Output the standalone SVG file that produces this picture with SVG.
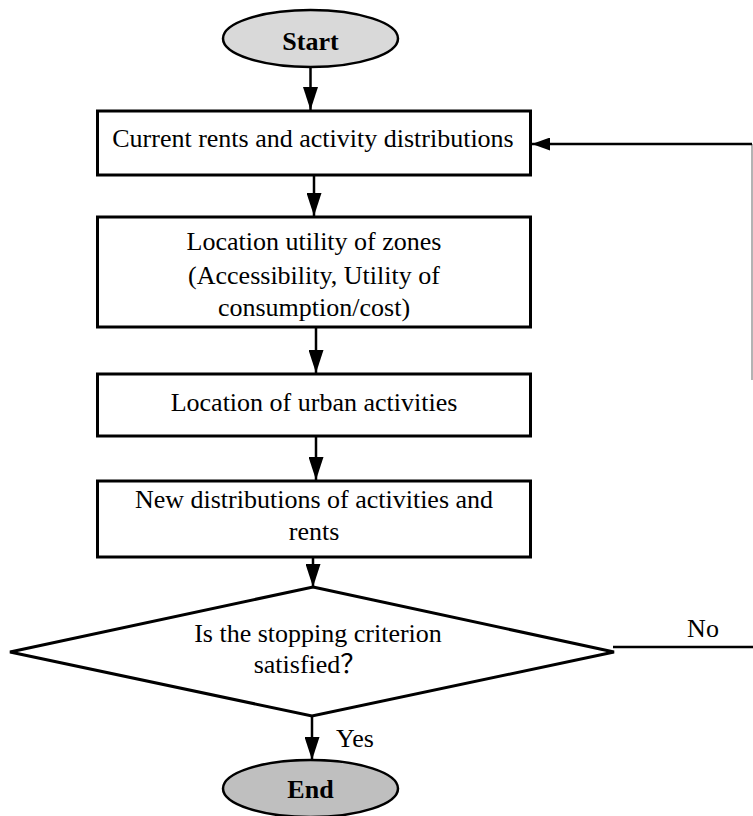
<svg xmlns="http://www.w3.org/2000/svg" width="753" height="816" viewBox="0 0 753 816">
<style>
  .box { fill: #ffffff; stroke: #000000; stroke-width: 3; }
  .term { stroke: #000000; stroke-width: 2.5; }
  .t { font-family: "Liberation Serif", "Times New Roman", "Noto Sans CJK SC", serif; font-size: 26px; fill: #000000; text-anchor: middle; }
  .b { font-weight: bold; }
  .edge { fill: none; stroke: #000000; stroke-width: 2.5; }
  .thin { fill: none; stroke: #9a9a9a; stroke-width: 1.5; }
</style>
<defs>
  <marker id="arr" markerWidth="23" markerHeight="15" refX="23" refY="7.5" orient="auto" markerUnits="userSpaceOnUse" viewBox="0 0 23 15">
    <path d="M0,0 L23,7.5 L0,15 Z" fill="#000000"/>
  </marker>
  <marker id="arrS" markerWidth="18" markerHeight="13" refX="18" refY="6.5" orient="auto" markerUnits="userSpaceOnUse" viewBox="0 0 18 13">
    <path d="M0,0 L18,6.5 L0,13 Z" fill="#000000"/>
  </marker>
</defs>

<g id="connectors">
  <line class="edge" x1="310.5" y1="67" x2="310.5" y2="110" marker-end="url(#arr)"/>
  <line class="edge" x1="314" y1="175" x2="314" y2="216" marker-end="url(#arr)"/>
  <line class="edge" x1="316" y1="327" x2="316" y2="373" marker-end="url(#arr)"/>
  <line class="edge" x1="316" y1="436" x2="316" y2="480" marker-end="url(#arr)"/>
  <line class="edge" x1="313" y1="557" x2="313" y2="587" marker-end="url(#arr)"/>
  <line class="edge" x1="312" y1="716" x2="312" y2="760" marker-end="url(#arr)"/>
  <line class="edge" x1="613" y1="647" x2="753" y2="647"/>
  <line class="thin" x1="752" y1="144" x2="752" y2="380"/>
  <line class="edge" x1="752" y1="144" x2="532" y2="144" marker-end="url(#arrS)"/>
  <text class="t" x="703" y="637">No</text>
  <text class="t" x="355" y="747">Yes</text>
</g>

<g id="start">
  <ellipse class="term" cx="310.5" cy="38.5" rx="87.5" ry="28.5" fill="#d9d9d9"/>
  <text class="t b" x="310.5" y="50">Start</text>
</g>

<g id="current">
  <rect class="box" x="97.5" y="111" width="433" height="64"/>
  <text class="t" x="313" y="147">Current rents and activity distributions</text>
</g>

<g id="utility">
  <rect class="box" x="97.5" y="217" width="433" height="110"/>
  <text class="t" x="314" y="250">Location utility of zones</text>
  <text class="t" x="314" y="284">(Accessibility, Utility of</text>
  <text class="t" x="314" y="316">consumption/cost)</text>
</g>

<g id="location">
  <rect class="box" x="97.5" y="374" width="433" height="62"/>
  <text class="t" x="314" y="411">Location of urban activities</text>
</g>

<g id="newdist">
  <rect class="box" x="97.5" y="481" width="433" height="76"/>
  <text class="t" x="314" y="508">New distributions of activities and</text>
  <text class="t" x="314" y="540">rents</text>
</g>

<g id="decision">
  <polygon class="box" points="313,587 614,652 312,716 10,652"/>
  <text class="t" x="318" y="642">Is the stopping criterion</text>
  <text class="t" x="310" y="673">satisfied？</text>
</g>

<g id="end">
  <ellipse class="term" cx="310.5" cy="788.5" rx="87.5" ry="28.5" fill="#bfbfbf"/>
  <text class="t b" x="310.5" y="798">End</text>
</g>
</svg>
